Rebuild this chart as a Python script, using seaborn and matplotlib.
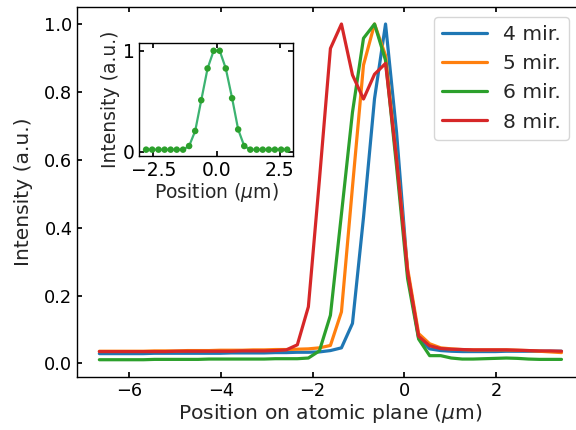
import matplotlib
matplotlib.use("Agg")
import matplotlib.pyplot as plt
import seaborn as sns
import pandas as pd

position = [-6.64, -6.40, -6.16, -5.92, -5.68, -5.44, -5.20, -4.96, -4.72, -4.49,
            -4.25, -4.01, -3.77, -3.53, -3.29, -3.05, -2.81, -2.57, -2.33, -2.09,
            -1.85, -1.61, -1.37, -1.13, -0.89, -0.65, -0.41, -0.17, 0.07, 0.31,
            0.55, 0.79, 1.02, 1.26, 1.50, 1.74, 1.98, 2.22, 2.46, 2.70,
            2.94, 3.18, 3.42]

mir4 = [0.029, 0.029, 0.029, 0.029, 0.029, 0.030, 0.030, 0.030, 0.030, 0.030,
        0.030, 0.030, 0.031, 0.031, 0.031, 0.031, 0.032, 0.032, 0.033, 0.033,
        0.034, 0.038, 0.046, 0.118, 0.43, 0.78, 1.0, 0.68, 0.27, 0.075,
        0.043, 0.038, 0.036, 0.035, 0.035, 0.035, 0.035, 0.036, 0.036, 0.036,
        0.036, 0.036, 0.036]
mir5 = [0.036, 0.036, 0.036, 0.036, 0.036, 0.037, 0.037, 0.037, 0.038, 0.038,
        0.038, 0.039, 0.039, 0.039, 0.040, 0.040, 0.041, 0.041, 0.042, 0.043,
        0.046, 0.053, 0.152, 0.52, 0.879, 1.0, 0.907, 0.60, 0.28, 0.088,
        0.058, 0.046, 0.043, 0.041, 0.040, 0.040, 0.040, 0.040, 0.039, 0.038,
        0.036, 0.034, 0.032]
mir6 = [0.011, 0.011, 0.011, 0.011, 0.011, 0.012, 0.012, 0.012, 0.012, 0.012,
        0.013, 0.013, 0.013, 0.013, 0.013, 0.013, 0.014, 0.014, 0.014, 0.016,
        0.037, 0.142, 0.44, 0.74, 0.958, 1.0, 0.893, 0.58, 0.25, 0.072,
        0.023, 0.023, 0.016, 0.013, 0.013, 0.014, 0.015, 0.016, 0.015, 0.013,
        0.012, 0.012, 0.012]
mir8 = [0.035, 0.035, 0.035, 0.035, 0.035, 0.035, 0.035, 0.036, 0.036, 0.036,
        0.036, 0.036, 0.036, 0.037, 0.037, 0.037, 0.038, 0.040, 0.055, 0.167,
        0.54, 0.928, 1.0, 0.85, 0.779, 0.852, 0.884, 0.60, 0.27, 0.08,
        0.052, 0.044, 0.042, 0.041, 0.040, 0.040, 0.040, 0.040, 0.039, 0.038,
        0.037, 0.037, 0.036]
series_labels = ["4 mir.", "5 mir.", "6 mir.", "8 mir."]
series_colors = ["#1f77b4", "#ff7f0e", "#2ca02c", "#d62728"]

inset_x = [-2.79, -2.55, -2.30, -2.06, -1.82, -1.58, -1.33, -1.09, -0.85, -0.61,
           -0.36, -0.12, 0.12, 0.36, 0.61, 0.85, 1.09, 1.33, 1.58, 1.82,
           2.06, 2.30, 2.55, 2.79]
inset_y = [0.02, 0.02, 0.02, 0.02, 0.02, 0.02, 0.02, 0.056, 0.205, 0.51,
           0.825, 1.0, 1.0, 0.825, 0.53, 0.22, 0.056, 0.02, 0.02, 0.02,
           0.02, 0.02, 0.02, 0.02]

sns.set_theme(style="ticks")
TICK_FS = 12.8
LABEL_FS = 14.6
INSET_FS = 13.5
plt.rcParams.update({
    "font.family": ["DejaVu Sans"],
    "font.size": TICK_FS,
    "axes.labelsize": LABEL_FS,
    "xtick.labelsize": TICK_FS,
    "ytick.labelsize": TICK_FS,
    "legend.fontsize": LABEL_FS,
    "xtick.direction": "in",
    "ytick.direction": "in",
    "xtick.top": True,
    "ytick.right": True,
    "axes.edgecolor": "black",
    "axes.linewidth": 1.0,
    "xtick.color": "black",
    "ytick.color": "black",
    "xtick.major.size": 3.5,
    "ytick.major.size": 3.5,
    "mathtext.fontset": "dejavusans",
})

df = pd.DataFrame({
    "x": position * 4,
    "y": mir4 + mir5 + mir6 + mir8,
    "series": sum([[s] * len(position) for s in series_labels], []),
})

fig = plt.figure(figsize=(5.76, 4.30), dpi=100)
ax = fig.add_axes([77.3 / 576, 53.3 / 430, (584.0 - 77.3) / 576, (376.7 - 6.7) / 430])
sns.lineplot(data=df, x="x", y="y", hue="series", palette=series_colors,
             linewidth=2.3, ax=ax, legend=True)
ax.set_xlim(-7.12, 3.91)
ax.set_ylim(-0.039, 1.051)
ax.set_xticks([-6, -4, -2, 0, 2])
ax.set_yticks([0.0, 0.2, 0.4, 0.6, 0.8, 1.0])
ax.set_yticklabels(["0.0", "0.2", "0.4", "0.6", "0.8", "1.0"])
ax.set_xticklabels(["\u22126", "\u22124", "\u22122", "0", "2"])
ax.set_xlabel(r"Position on atomic plane ($\mu$m)", labelpad=2)
ax.set_ylabel("Intensity (a.u.)", labelpad=8)
leg = ax.legend(loc="upper left", frameon=True, handlelength=2.2, borderaxespad=0.0)
leg.set_bbox_to_anchor((434 / 576, 1 - 17 / 430), transform=fig.transFigure)
for line in leg.get_lines():
    line.set_linewidth(2.3)

axin = fig.add_axes([139.3 / 576, (430 - 155.7) / 430, (293.3 - 139.3) / 576, (155.7 - 42.7) / 430])
sns.lineplot(x=inset_x, y=inset_y, color="#3cb371", linewidth=1.6, ax=axin)
sns.scatterplot(x=inset_x, y=inset_y, color="#2ca02c", s=22, edgecolor="none", ax=axin, zorder=3)
axin.set_xlim(-3.06, 3.03)
axin.set_ylim(-0.04, 1.08)
axin.set_xticks([-2.5, 0.0, 2.5])
axin.set_xticklabels(["\u22122.5", "0.0", "2.5"], fontsize=INSET_FS)
axin.set_yticks([0, 1])
axin.set_yticklabels(["0", "1"], fontsize=INSET_FS)
axin.set_xlabel(r"Position ($\mu$m)", labelpad=1, fontsize=INSET_FS)
axin.set_ylabel("Intensity (a.u.)", labelpad=2, fontsize=INSET_FS)

fig.savefig("out.png", dpi=100)
